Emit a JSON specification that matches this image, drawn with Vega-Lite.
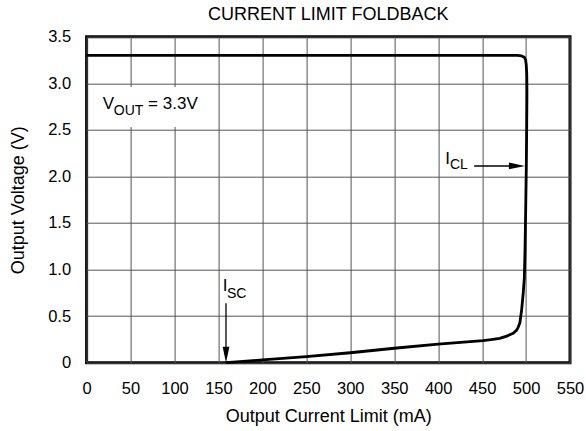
{
  "$schema": "https://vega.github.io/schema/vega-lite/v6.json",
  "width": 483.4,
  "height": 326,
  "autosize": "none",
  "padding": {"left": 86.6, "top": 36.7, "right": 16, "bottom": 68.3},
  "background": "white",
  "config": {
    "font": "Liberation Sans",
    "view": {"stroke": "black", "strokeWidth": 3}
  },
  "title": {
    "text": "CURRENT LIMIT FOLDBACK",
    "fontSize": 18,
    "fontWeight": "normal",
    "color": "black",
    "baseline": "alphabetic",
    "offset": -9,
    "anchor": "middle"
  },
  "datasets": {
    "curve": [
      {"i": 1, "current": 0, "voltage": 3.3},
      {"i": 2, "current": 100, "voltage": 3.3},
      {"i": 3, "current": 200, "voltage": 3.3},
      {"i": 4, "current": 300, "voltage": 3.3},
      {"i": 5, "current": 400, "voltage": 3.3},
      {"i": 6, "current": 480, "voltage": 3.3},
      {"i": 7, "current": 490, "voltage": 3.299},
      {"i": 8, "current": 495, "voltage": 3.294},
      {"i": 9, "current": 498, "voltage": 3.28},
      {"i": 10, "current": 499.5, "voltage": 3.25},
      {"i": 11, "current": 500.2, "voltage": 3.2},
      {"i": 12, "current": 500.8, "voltage": 3.1},
      {"i": 13, "current": 501, "voltage": 2.9},
      {"i": 14, "current": 500.7, "voltage": 2.5},
      {"i": 15, "current": 500.3, "voltage": 2.1},
      {"i": 16, "current": 499.5, "voltage": 1.6},
      {"i": 17, "current": 498.8, "voltage": 1.2},
      {"i": 18, "current": 498, "voltage": 0.9},
      {"i": 19, "current": 496.8, "voltage": 0.75},
      {"i": 20, "current": 495, "voltage": 0.57},
      {"i": 21, "current": 493, "voltage": 0.43},
      {"i": 22, "current": 491, "voltage": 0.38},
      {"i": 23, "current": 489.3, "voltage": 0.35},
      {"i": 24, "current": 485.4, "voltage": 0.316},
      {"i": 25, "current": 478, "voltage": 0.285},
      {"i": 26, "current": 470, "voltage": 0.262},
      {"i": 27, "current": 460, "voltage": 0.247},
      {"i": 28, "current": 451, "voltage": 0.236},
      {"i": 29, "current": 400, "voltage": 0.2},
      {"i": 30, "current": 350, "voltage": 0.155},
      {"i": 31, "current": 300, "voltage": 0.107},
      {"i": 32, "current": 250, "voltage": 0.065},
      {"i": 33, "current": 200, "voltage": 0.03},
      {"i": 34, "current": 159, "voltage": 0}
    ]
  },
  "layer": [
    {
      "data": {"name": "curve"},
      "mark": {"type": "line", "color": "black", "strokeWidth": 2.8, "strokeJoin": "round"},
      "encoding": {
        "x": {
          "field": "current",
          "type": "quantitative",
          "scale": {"domain": [0, 550], "nice": false},
          "axis": {
            "title": "Output Current Limit (mA)",
            "values": [0, 50, 100, 150, 200, 250, 300, 350, 400, 450, 500, 550],
            "grid": true,
            "gridColor": "#555555",
            "gridWidth": 1,
            "ticks": false,
            "domain": false,
            "labelFontSize": 16.5,
            "labelColor": "black",
            "labelPadding": 18,
            "labelFlush": false,
            "labelOverlap": false,
            "titleFontSize": 18,
            "titleFontWeight": "normal",
            "titleColor": "black",
            "titlePadding": 10
          }
        },
        "y": {
          "field": "voltage",
          "type": "quantitative",
          "scale": {"domain": [0, 3.5], "nice": false},
          "axis": {
            "title": "Output Voltage (V)",
            "values": [0, 0.5, 1, 1.5, 2, 2.5, 3, 3.5],
            "labelExpr": "datum.value == 0 ? '0' : format(datum.value, '.1f')",
            "grid": true,
            "gridColor": "#555555",
            "gridWidth": 1,
            "ticks": false,
            "domain": false,
            "labelFontSize": 16.5,
            "labelColor": "black",
            "labelPadding": 16,
            "labelFlush": false,
            "labelOverlap": false,
            "titleFontSize": 18,
            "titleFontWeight": "normal",
            "titleColor": "black",
            "titlePadding": 20
          }
        },
        "order": {"field": "i", "type": "quantitative"}
      }
    },
    {
      "data": {"values": [{"note": "label background"}]},
      "mark": {"type": "rect", "fill": "white"},
      "encoding": {
        "x": {"datum": 5, "type": "quantitative"},
        "x2": {"datum": 135},
        "y": {"datum": 2.53, "type": "quantitative"},
        "y2": {"datum": 2.96}
      }
    },
    {
      "data": {"values": [{"arrow": "ICL"}]},
      "mark": {"type": "rule", "color": "black", "strokeWidth": 1.3},
      "encoding": {
        "x": {"datum": 441, "type": "quantitative"},
        "x2": {"datum": 490},
        "y": {"datum": 2.112, "type": "quantitative"}
      }
    },
    {
      "data": {"values": [{"arrow": "ISC"}]},
      "mark": {"type": "rule", "color": "black", "strokeWidth": 1.3},
      "encoding": {
        "x": {"datum": 158.6, "type": "quantitative"},
        "y": {"datum": 0.638, "type": "quantitative"},
        "y2": {"datum": 0.1}
      }
    },
    {
      "data": {"values": [{"arrow": "ICL"}]},
      "mark": {"type": "point", "filled": true, "color": "black", "opacity": 1, "shape": "M0,0L-2,-0.42L-2,0.42Z", "size": 256},
      "encoding": {
        "x": {"datum": 498.7, "type": "quantitative"},
        "y": {"datum": 2.112, "type": "quantitative"}
      }
    },
    {
      "data": {"values": [{"arrow": "ISC"}]},
      "mark": {"type": "point", "filled": true, "color": "black", "opacity": 1, "shape": "M0,0L-0.42,-2L0.42,-2Z", "size": 256},
      "encoding": {
        "x": {"datum": 158.6, "type": "quantitative"},
        "y": {"datum": 0, "type": "quantitative"}
      }
    },
    {
      "data": {"values": [
        {"label": "V", "lx": 18.3, "ly": 2.72},
        {"label": "= 3.3V", "lx": 70, "ly": 2.72},
        {"label": "I", "lx": 408, "ly": 2.133},
        {"label": "I", "lx": 154.9, "ly": 0.773}
      ]},
      "mark": {"type": "text", "align": "left", "baseline": "alphabetic", "fontSize": 17, "color": "black"},
      "encoding": {
        "x": {"field": "lx", "type": "quantitative"},
        "y": {"field": "ly", "type": "quantitative"},
        "text": {"field": "label"}
      }
    },
    {
      "data": {"values": [
        {"label": "OUT", "lx": 31, "ly": 2.66},
        {"label": "CL", "lx": 413.4, "ly": 2.077},
        {"label": "SC", "lx": 159.7, "ly": 0.691}
      ]},
      "mark": {"type": "text", "align": "left", "baseline": "alphabetic", "fontSize": 14, "color": "black"},
      "encoding": {
        "x": {"field": "lx", "type": "quantitative"},
        "y": {"field": "ly", "type": "quantitative"},
        "text": {"field": "label"}
      }
    }
  ]
}
